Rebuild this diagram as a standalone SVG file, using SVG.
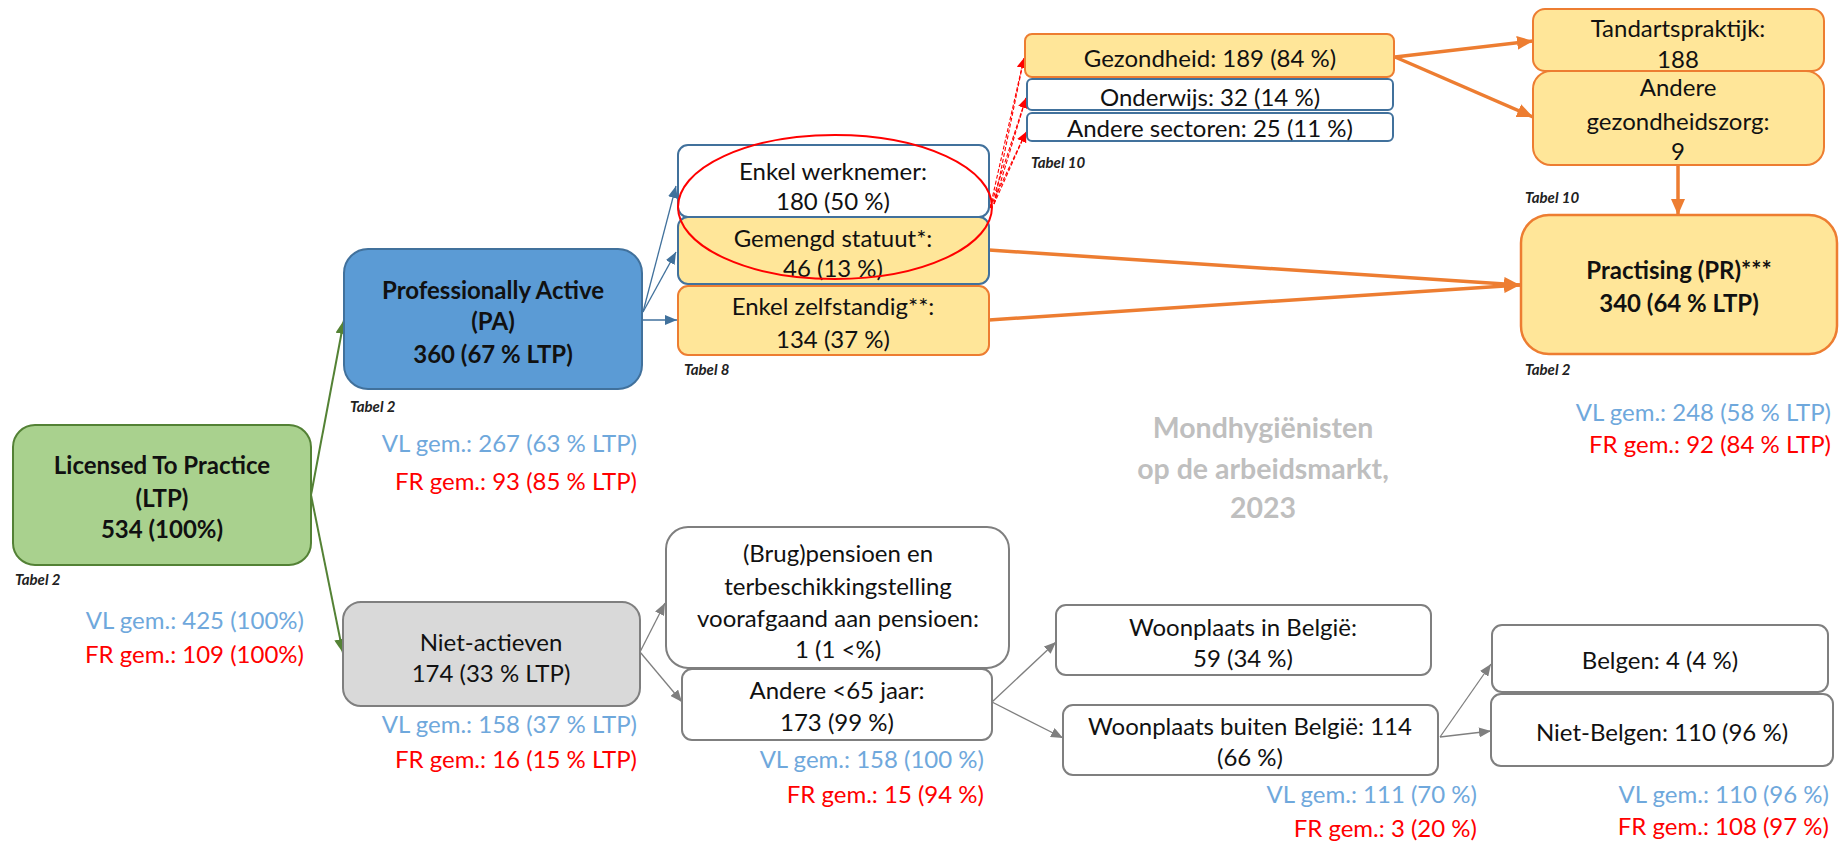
<svg xmlns="http://www.w3.org/2000/svg" width="1846" height="842" viewBox="0 0 1846 842">
<style>
text{font-family:Lato,"Liberation Sans",sans-serif;font-size:24px;fill:#111;dominant-baseline:central}
.c{text-anchor:middle}
.b{font-weight:bold}
.tab{font-size:15px;font-style:italic;font-weight:bold;fill:#222}
.vl{fill:#6fa8dc;text-anchor:end}
.fr{fill:#ff0000;text-anchor:end}
.ttl{font-size:28.5px;font-weight:bold;fill:#bfbfbf;text-anchor:middle}
.blu{stroke:#41719c;stroke-width:1.3;fill:none}
.gry{stroke:#7f7f7f;stroke-width:1.3;fill:none}
.grn{stroke:#548235;stroke-width:2;fill:none}
.org{stroke:#ed7d31;stroke-width:3.5;fill:none}
.red{stroke:#ff0000;stroke-width:1.1;fill:none;stroke-dasharray:4 2}
</style>
<defs>
<marker id="aBlu" markerUnits="userSpaceOnUse" markerWidth="12" markerHeight="10" refX="12" refY="5" orient="auto"><path d="M0,0 L12,5 L0,10 Z" fill="#41719c"/></marker>
<marker id="aGry" markerUnits="userSpaceOnUse" markerWidth="12" markerHeight="10" refX="12" refY="5" orient="auto"><path d="M0,0 L12,5 L0,10 Z" fill="#7f7f7f"/></marker>
<marker id="aGrn" markerUnits="userSpaceOnUse" markerWidth="14" markerHeight="12" refX="14" refY="6" orient="auto"><path d="M0,0 L14,6 L0,12 Z" fill="#548235"/></marker>
<marker id="aOrg" markerUnits="userSpaceOnUse" markerWidth="16" markerHeight="14" refX="16" refY="7" orient="auto"><path d="M0,0 L16,7 L0,14 Z" fill="#ed7d31"/></marker>
<marker id="aRed" markerUnits="userSpaceOnUse" markerWidth="10" markerHeight="10" refX="10" refY="5" orient="auto"><path d="M0,0 L10,5 L0,10 Z" fill="#ff0000"/></marker>
</defs>
<rect width="1846" height="842" fill="#ffffff"/>

<g id="connectors">
<path class="grn" d="M311,495 L344,320" marker-end="url(#aGrn)"/>
<path class="grn" d="M311,495 L343,653" marker-end="url(#aGrn)"/>
<path class="blu" d="M643,312 L676,186" marker-end="url(#aBlu)"/>
<path class="blu" d="M643,312 L676,252" marker-end="url(#aBlu)"/>
<path class="blu" d="M643,320 L677,320" marker-end="url(#aBlu)"/>
<path class="red" d="M990,208 L1024,58" marker-end="url(#aRed)"/>
<path class="red" d="M994,204 L1024,58"/>
<path class="red" d="M990,208 L1026,98" marker-end="url(#aRed)"/>
<path class="red" d="M994,204 L1026,98"/>
<path class="red" d="M990,208 L1026,132" marker-end="url(#aRed)"/>
<path class="red" d="M994,204 L1026,132"/>
<path class="org" d="M1395,57 L1533,41" marker-end="url(#aOrg)"/>
<path class="org" d="M1395,57 L1533,117" marker-end="url(#aOrg)"/>
<path class="org" d="M1678,165 L1678,215" marker-end="url(#aOrg)"/>
<path class="org" d="M989,250 L1520,285" marker-end="url(#aOrg)"/>
<path class="org" d="M989,320 L1520,285" marker-end="url(#aOrg)"/>
<path class="gry" d="M640,652 L665,603" marker-end="url(#aGry)"/>
<path class="gry" d="M640,652 L682,702" marker-end="url(#aGry)"/>
<path class="gry" d="M992,702 L1056,642" marker-end="url(#aGry)"/>
<path class="gry" d="M992,702 L1063,738" marker-end="url(#aGry)"/>
<path class="gry" d="M1440,737 L1491,664" marker-end="url(#aGry)"/>
<path class="gry" d="M1440,737 L1491,731" marker-end="url(#aGry)"/>
</g>

<g id="ltp">
<rect x="13" y="425" width="298" height="140" rx="22" fill="#a9d18e" stroke="#538135" stroke-width="2"/>
<text class="c b" x="162" y="464">Licensed To Practice</text>
<text class="c b" x="162" y="497">(LTP)</text>
<text class="c b" x="162" y="528">534 (100%)</text>
<text class="tab" x="15" y="579">Tabel 2</text>
<text class="vl" x="304" y="619">VL gem.: 425 (100%)</text>
<text class="fr" x="304" y="653">FR gem.: 109 (100%)</text>
</g>

<g id="pa">
<rect x="344" y="249" width="298" height="140" rx="24" fill="#5b9bd5" stroke="#41719c" stroke-width="2"/>
<text class="c b" x="493" y="289">Professionally Active</text>
<text class="c b" x="493" y="320">(PA)</text>
<text class="c b" x="493" y="353">360 (67 % LTP)</text>
<text class="tab" x="350" y="406">Tabel 2</text>
<text class="vl" x="637" y="442">VL gem.: 267 (63 % LTP)</text>
<text class="fr" x="637" y="480">FR gem.: 93 (85 % LTP)</text>
</g>

<g id="niet-actieven">
<rect x="343" y="602" width="297" height="104" rx="18" fill="#d9d9d9" stroke="#7f7f7f" stroke-width="2"/>
<text class="c" x="491" y="641">Niet-actieven</text>
<text class="c" x="491" y="672">174 (33 % LTP)</text>
<text class="vl" x="637" y="723">VL gem.: 158 (37 % LTP)</text>
<text class="fr" x="637" y="758">FR gem.: 16 (15 % LTP)</text>
</g>

<g id="enkel-werknemer">
<rect x="678" y="145" width="311" height="72" rx="10" fill="#ffffff" stroke="#41719c" stroke-width="2"/>
<text class="c" x="833" y="170">Enkel werknemer:</text>
<text class="c" x="833" y="200">180 (50 %)</text>
</g>

<g id="gemengd">
<rect x="678" y="217" width="311" height="67" rx="10" fill="#ffe699" stroke="#41719c" stroke-width="2"/>
<text class="c" x="833" y="237">Gemengd statuut*:</text>
<text class="c" x="833" y="267">46 (13 %)</text>
</g>

<g id="zelfstandig">
<rect x="678" y="286" width="311" height="69" rx="10" fill="#ffe699" stroke="#ed7d31" stroke-width="2"/>
<text class="c" x="833" y="305">Enkel zelfstandig**:</text>
<text class="c" x="833" y="338">134 (37 %)</text>
<text class="tab" x="684" y="369">Tabel 8</text>
</g>

<g id="highlight">
<ellipse cx="835" cy="207" rx="157" ry="72" fill="none" stroke="#ff0000" stroke-width="2"/>
</g>

<g id="gezondheid">
<rect x="1025" y="34" width="369" height="43" rx="7" fill="#ffe699" stroke="#ed7d31" stroke-width="2"/>
<text class="c" x="1210" y="57">Gezondheid: 189 (84 %)</text>
</g>

<g id="onderwijs">
<rect x="1027" y="79" width="366" height="31" rx="5" fill="#ffffff" stroke="#41719c" stroke-width="2"/>
<text class="c" x="1210" y="96">Onderwijs: 32 (14 %)</text>
</g>

<g id="andere-sectoren">
<rect x="1027" y="113" width="366" height="28" rx="5" fill="#ffffff" stroke="#41719c" stroke-width="2"/>
<text class="c" x="1210" y="127">Andere sectoren: 25 (11 %)</text>
<text class="tab" x="1031" y="162">Tabel 10</text>
</g>

<g id="tandarts">
<rect x="1533" y="9" width="291" height="62" rx="12" fill="#ffe699" stroke="#ed7d31" stroke-width="2"/>
<text class="c" x="1678" y="27">Tandartspraktijk:</text>
<text class="c" x="1678" y="58">188</text>
</g>

<g id="andere-gezondheidszorg">
<rect x="1533" y="71" width="291" height="94" rx="18" fill="#ffe699" stroke="#ed7d31" stroke-width="2"/>
<text class="c" x="1678" y="86">Andere</text>
<text class="c" x="1678" y="120">gezondheidszorg:</text>
<text class="c" x="1678" y="150">9</text>
<text class="tab" x="1525" y="197">Tabel 10</text>
</g>

<g id="practising">
<rect x="1521" y="215" width="316" height="139" rx="28" fill="#ffe699" stroke="#ed7d31" stroke-width="2.5"/>
<text class="c b" x="1679" y="269">Practising (PR)***</text>
<text class="c b" x="1679" y="302">340 (64 % LTP)</text>
<text class="tab" x="1525" y="369">Tabel 2</text>
<text class="vl" x="1831" y="411">VL gem.: 248 (58 % LTP)</text>
<text class="fr" x="1831" y="443">FR gem.: 92 (84 % LTP)</text>
</g>

<g id="title">
<text class="ttl" x="1263" y="427">Mondhygiënisten</text>
<text class="ttl" x="1263" y="468">op de arbeidsmarkt,</text>
<text class="ttl" x="1263" y="507">2023</text>
</g>

<g id="brugpensioen">
<rect x="666" y="527" width="343" height="141" rx="22" fill="#ffffff" stroke="#7f7f7f" stroke-width="2"/>
<text class="c" x="838" y="552">(Brug)pensioen en</text>
<text class="c" x="838" y="585">terbeschikkingstelling</text>
<text class="c" x="838" y="617">voorafgaand aan pensioen:</text>
<text class="c" x="838" y="648">1 (1 &lt;%)</text>
</g>

<g id="andere-65">
<rect x="682" y="669" width="310" height="71" rx="10" fill="#ffffff" stroke="#7f7f7f" stroke-width="2"/>
<text class="c" x="837" y="689">Andere &lt;65 jaar:</text>
<text class="c" x="837" y="721">173 (99 %)</text>
<text class="vl" x="984" y="758">VL gem.: 158 (100 %)</text>
<text class="fr" x="984" y="793">FR gem.: 15 (94 %)</text>
</g>

<g id="woonplaats-in">
<rect x="1056" y="605" width="375" height="70" rx="10" fill="#ffffff" stroke="#7f7f7f" stroke-width="2"/>
<text class="c" x="1243" y="626">Woonplaats in België:</text>
<text class="c" x="1243" y="657">59 (34 %)</text>
</g>

<g id="woonplaats-buiten">
<rect x="1063" y="705" width="375" height="70" rx="10" fill="#ffffff" stroke="#7f7f7f" stroke-width="2"/>
<text class="c" x="1250" y="725">Woonplaats buiten België: 114</text>
<text class="c" x="1250" y="756">(66 %)</text>
<text class="vl" x="1477" y="793">VL gem.: 111 (70 %)</text>
<text class="fr" x="1477" y="827">FR gem.: 3 (20 %)</text>
</g>

<g id="belgen">
<rect x="1492" y="625" width="336" height="67" rx="10" fill="#ffffff" stroke="#7f7f7f" stroke-width="2"/>
<text class="c" x="1660" y="659">Belgen: 4 (4 %)</text>
</g>

<g id="niet-belgen">
<rect x="1491" y="694" width="342" height="72" rx="10" fill="#ffffff" stroke="#7f7f7f" stroke-width="2"/>
<text class="c" x="1662" y="731">Niet-Belgen: 110 (96 %)</text>
<text class="vl" x="1829" y="793">VL gem.: 110 (96 %)</text>
<text class="fr" x="1829" y="825">FR gem.: 108 (97 %)</text>
</g>
</svg>
